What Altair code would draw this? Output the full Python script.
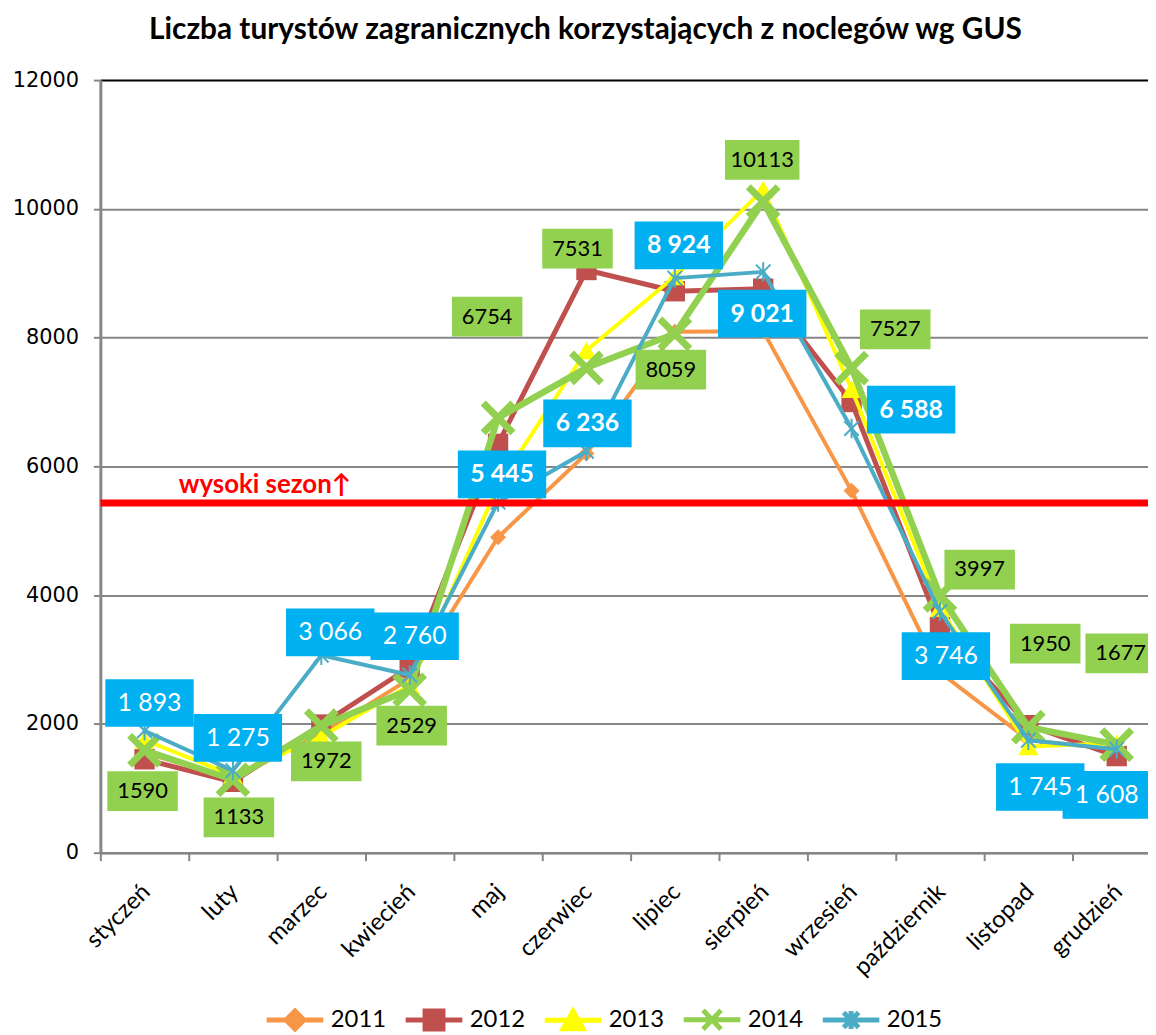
import altair as alt
import pandas as pd

# ---------------- data ----------------
months = ["styczeń", "luty", "marzec", "kwiecień", "maj", "czerwiec", "lipiec",
          "sierpień", "wrzesień", "październik", "listopad", "grudzień"]
years = ["2011", "2012", "2013", "2014", "2015"]
v2011 = [1550, 1150, 1850, 2700, 4900, 6200, 8090, 8100, 5620, 2800, 1750, 1600]
v2012 = [1450, 1100, 1990, 2880, 6350, 9050, 8720, 8760, 7000, 3500, 1980, 1500]
v2013 = [1750, 1200, 1800, 2600, 5700, 7800, 8950, 10300, 7200, 3800, 1650, 1700]
v2014 = [1590, 1133, 1972, 2529, 6754, 7531, 8059, 10113, 7527, 3997, 1950, 1677]
v2015 = [1893, 1275, 3066, 2760, 5445, 6236, 8924, 9021, 6588, 3746, 1745, 1608]
labels2014 = ["1590", "1133", "1972", "2529", "6754", "7531", "8059", "10113", "7527", "3997", "1950", "1677"]
labels2015 = ["1 893", "1 275", "3 066", "2 760", "5 445", "6 236", "8 924", "9 021", "6 588", "3 746", "1 745", "1 608"]
season_value = 5430
season_text = "wysoki sezon↑"
title_text = "Liczba turystów zagranicznych korzystających z noclegów wg GUS"

# ---------------- styles / layout ----------------
PLOT_W, PLOT_H = 1055, 778
STEP = 89.0                      # px per month
YMAX = 12000
PX_Y = YMAX / PLOT_H             # data units per px
colors = ["#F79646", "#C0504D", "#FFFF00", "#92D050", "#4BACC6"]
line_widths = [4, 5, 4, 6.5, 4]
marker_shapes = ["diamond", "square", "triangle-up",
                 "M-1,-1L1,1M-1,1L1,-1",
                 "M-0.75,-0.75L0.75,0.75M-0.75,0.75L0.75,-0.75M0,-1V1"]
marker_sizes = [260, 420, 420, 900, 380]
marker_filled = [True, True, True, False, False]
marker_stroke = [0, 0, 0, 7, 2]
legend_paths = [
    "M-3,0H3M0,-0.95L0.95,0L0,0.95L-0.95,0Z",
    "M-3,0H3M-0.95,-0.95H0.95V0.95H-0.95Z",
    "M-3,0H3M0,-0.95L1.05,0.9H-1.05Z",
    "M-3,0H3M-0.95,-1L0.95,1M-0.95,1L0.95,-1",
    "M-3,0H3M0,-0.95V0.95M-0.8,-0.8L0.8,0.8M-0.8,0.8L0.8,-0.8",
]
green_dx = [-2, 6, 5, 2, -11, -9, -4, -1, 44, 40, 17, 4]
green_dy = [41, 38, 36, 36, -102, -120, 36, -42, -39, -26, -84, -92]
blue_dx = [5, 5, 9, 5, 4, 1, 4, -1, 60, 6, 12, -10]
blue_dy = [-28, -33, -23, -39, -28, -28, -33, 42, -19, 45, 47, 46]
blue_bold = [False, False, False, False, True, True, True, True, True, False, False, False]
season_pos = ((180 - 101) / STEP, 5584)

series = [v2011, v2012, v2013, v2014, v2015]

xs = alt.Scale(domain=[0, PLOT_W / STEP], nice=False, zero=False)
ys = alt.Scale(domain=[0, YMAX], nice=False, zero=True)

rows = []
for y, vals in zip(years, series):
    for i, v in enumerate(vals):
        rows.append({"year": y, "x": i + 0.5, "value": v})
df = pd.DataFrame(rows)

label_expr = "[" + ",".join("'%s'" % m for m in months) + "][floor(datum.value)]"
axis_x_labels = alt.Axis(values=[i + 0.5 for i in range(12)], labelExpr=label_expr,
                         ticks=False, grid=False, domain=True, domainColor="#868686",
                         domainWidth=2.5, labelAngle=315, labelAlign="right",
                         labelBaseline="top", labelPadding=27, labelOffset=-7,
                         labelFont="Lato", labelFontSize=24, labelColor="black",
                         labelOverlap=False, labelBound=False, labelFlush=False,
                         title=None, orient="bottom")
axis_x_ticks = alt.Axis(values=list(range(12)), labels=False, ticks=True, tickSize=8,
                        tickColor="#868686", tickWidth=2, domain=False, grid=False,
                        title=None, orient="bottom")
axis_y = alt.Axis(values=list(range(0, 12001, 2000)), format="d", labelFont="DejaVu Sans",
                  labelFontSize=21, labelColor="black", labelPadding=15, tickSize=7,
                  tickColor="#868686", tickWidth=2, domainColor="#868686", domainWidth=3,
                  grid=True, gridWidth=2,
                  gridColor={"condition": {"test": "datum.value === 12000", "value": "black"},
                             "value": "#868686"},
                  title=None)


def Y(field):
    return alt.Y(field, scale=ys, axis=axis_y)


layers = []
for k, y in enumerate(years):
    d = df[df.year == y]
    xaxis = axis_x_labels if k == 0 else None
    line = alt.Chart(d).mark_line(color=colors[k], strokeWidth=line_widths[k],
                                  strokeJoin="round", strokeCap="round").encode(
        x=alt.X("x:Q", scale=xs, axis=xaxis),
        y=Y("value:Q"),
        order="x:Q")
    pt_kwargs = dict(shape=marker_shapes[k], size=marker_sizes[k], opacity=1,
                     filled=marker_filled[k])
    if marker_filled[k]:
        pt_kwargs["color"] = colors[k]
    else:
        pt_kwargs["stroke"] = colors[k]
        pt_kwargs["strokeWidth"] = marker_stroke[k]
    pts = alt.Chart(d).mark_point(**pt_kwargs).encode(
        x=alt.X("x:Q", scale=xs, axis=axis_x_ticks if k == 0 else None),
        y=Y("value:Q"))
    layers += [line, pts]

# red threshold line
rule = alt.Chart(pd.DataFrame({"v": [season_value]})).mark_rule(
    color="#FF0000", strokeWidth=7).encode(y=Y("v:Q"))
season = alt.Chart(pd.DataFrame({"x": [season_pos[0]], "v": [season_pos[1]], "t": [season_text]})).mark_text(
    align="left", baseline="alphabetic", font="Lato", fontSize=26, fontWeight="bold",
    color="#FF0000").encode(x=alt.X("x:Q", scale=xs, axis=None), y=Y("v:Q"), text="t:N")
layers += [rule, season]

# data label boxes
g = pd.DataFrame({
    "x": [i + 0.5 + dx / STEP for i, dx in enumerate(green_dx)],
    "v": [v - dy * PX_Y for v, dy in zip(v2014, green_dy)],
    "t": labels2014,
})
g["w"] = [75 if len(t) > 4 else 71 for t in labels2014]
b = pd.DataFrame({
    "x": [i + 0.5 + dx / STEP for i, dx in enumerate(blue_dx)],
    "v": [v - dy * PX_Y for v, dy in zip(v2015, blue_dy)],
    "t": labels2015,
    "bold": blue_bold,
})


def box(data, width, height, color):
    path = "M-1,-%.4fH1V%.4fH-1Z" % (height / width, height / width)
    return alt.Chart(data).mark_point(shape=path, size=width * width, filled=True,
                                      color=color, opacity=1).encode(
        x=alt.X("x:Q", scale=xs, axis=None), y=Y("v:Q"))


def txt(data, size, color, weight="normal"):
    return alt.Chart(data).mark_text(font="Lato", fontSize=size, color=color, fontWeight=weight,
                                     baseline="middle", align="center").encode(
        x=alt.X("x:Q", scale=xs, axis=None), y=Y("v:Q"), text="t:N")


layers += [box(g[g.w == 71], 71, 40, "#92D050"), box(g[g.w == 75], 75, 40, "#92D050"),
           txt(g, 22, "black"), box(b, 89, 48, "#00B0F0"),
           txt(b[~b.bold], 25, "white"), txt(b[b.bold], 25, "white", "bold")]

# legend layer (invisible marks, visible legend)
leg = alt.Legend(orient="none", legendX=184, legendY=934, direction="horizontal",
                 columns=5, title=None, symbolSize=361, symbolStrokeWidth=5,
                 symbolOpacity=1, labelFont="Lato", labelFontSize=24, labelColor="black",
                 columnPadding=9, labelOffset=24, padding=0)
legend_layer = alt.Chart(df).mark_point(opacity=0, filled=True).encode(
    x=alt.X("x:Q", scale=xs, axis=None),
    y=Y("value:Q"),
    fill=alt.Fill("year:N", scale=alt.Scale(domain=years, range=colors), legend=leg),
    stroke=alt.Stroke("year:N", scale=alt.Scale(domain=years, range=colors), legend=leg),
    shape=alt.Shape("year:N", scale=alt.Scale(domain=years, range=legend_paths), legend=leg),
)
layers.append(legend_layer)

chart = alt.layer(*layers).resolve_axis(x="independent").properties(
    width=PLOT_W, height=PLOT_H,
    title=alt.TitleParams(title_text, font="Lato", fontSize=30, fontWeight="bold",
                          color="black", anchor="middle", frame="group", dx=-39,
                          offset=-6, baseline="bottom"),
    autosize=alt.AutoSizeParams(type="none"),
    padding={"left": 93, "top": 69, "right": 0, "bottom": 180},
    background="white",
).configure_view(stroke=None)

chart.save("out.html", embed_options={"renderer": "svg", "actions": False})
